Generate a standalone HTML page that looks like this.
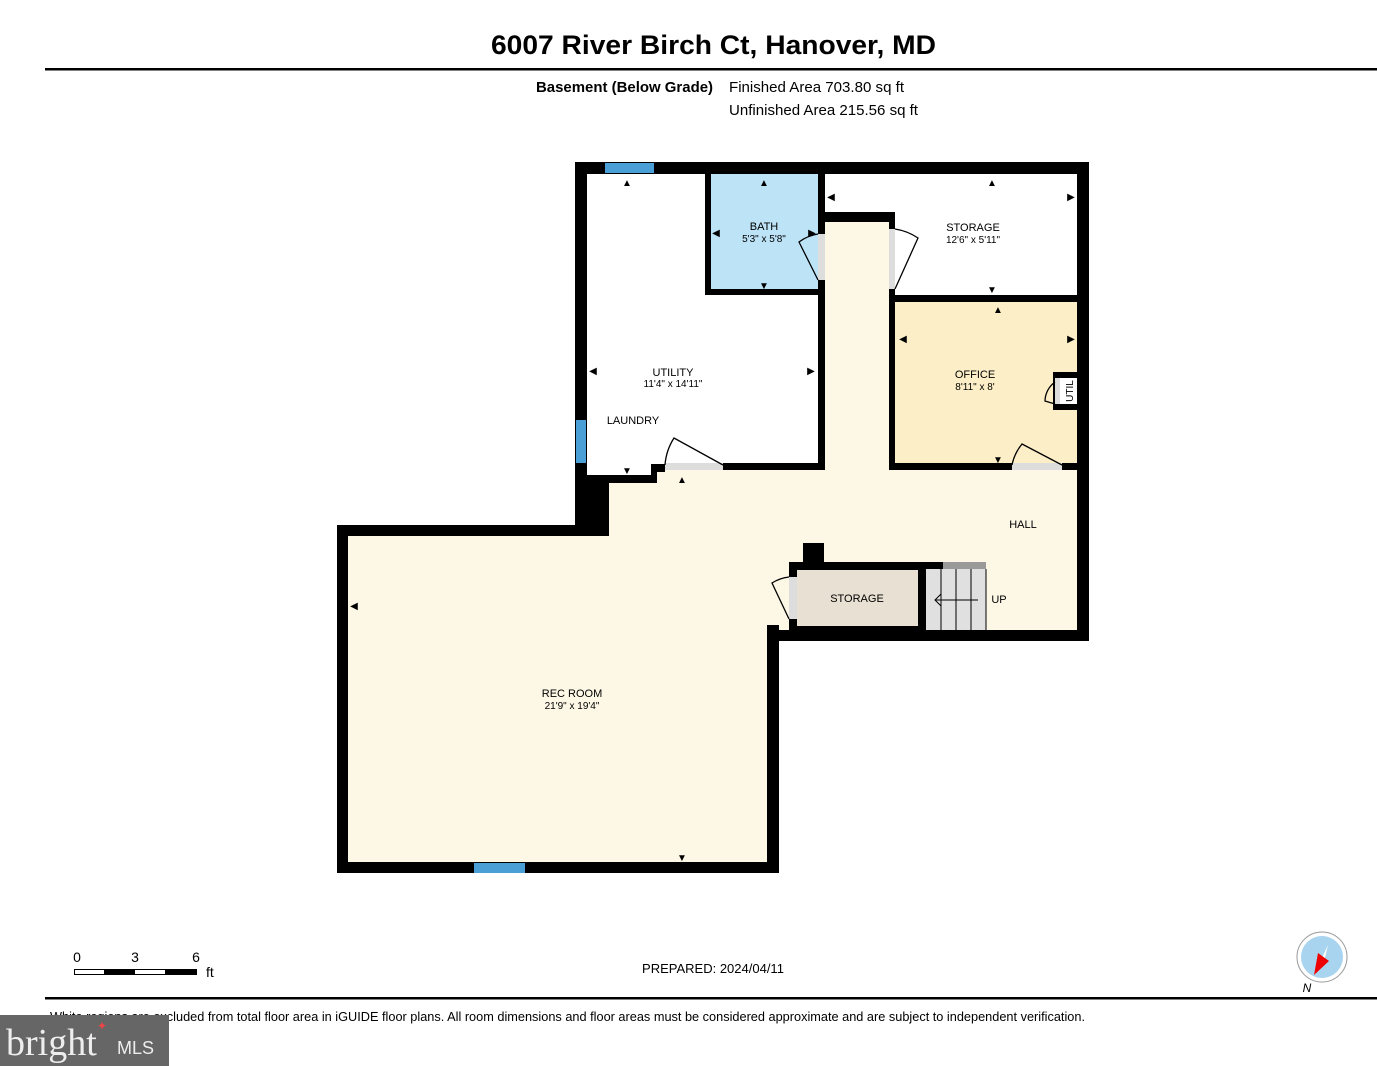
<!DOCTYPE html>
<html><head><meta charset="utf-8"><style>
html,body{margin:0;padding:0;background:#fff;}
svg{display:block;font-family:"Liberation Sans",Arial,sans-serif;}
</style></head><body>
<svg width="1377" height="1066" viewBox="0 0 1377 1066" xmlns="http://www.w3.org/2000/svg">
<rect width="1377" height="1066" fill="#fff"/>
<text x="491" y="54" font-size="27" font-weight="bold" textLength="445" lengthAdjust="spacingAndGlyphs">6007 River Birch Ct, Hanover, MD</text>
<rect x="45" y="68" width="1332" height="2.5" fill="#000"/>
<text x="536" y="92" font-size="15" font-weight="bold" textLength="177" lengthAdjust="spacingAndGlyphs">Basement (Below Grade)</text>
<text x="729" y="92" font-size="15" textLength="175" lengthAdjust="spacingAndGlyphs">Finished Area 703.80 sq ft</text>
<text x="729" y="115" font-size="15" textLength="189" lengthAdjust="spacingAndGlyphs">Unfinished Area 215.56 sq ft</text>

<polygon points="575,162 1089,162 1089,641 779,641 779,873 337,873 337,525 575,525" fill="#000"/>
<polygon points="587,174 705,174 705,295 818,295 818,463 723,463 723,464 651,464 651,475 587,475" fill="#fff"/>
<rect x="711" y="174" width="107" height="115" fill="#bde3f7"/>
<polygon points="825,174 1077,174 1077,295 895,295 895,212 825,212" fill="#fff"/>
<rect x="895" y="302" width="182" height="161" fill="#fcefc7"/>
<polygon points="825,222 889,222 889,470 1077,470 1077,630 779,630 779,625 767,625 767,862 348,862 348,536 609,536 609,483 657,483 657,472 665,472 665,470 825,470" fill="#fdf8e6"/>
<rect x="789" y="562" width="154" height="68" fill="#000"/>
<rect x="803" y="543" width="21" height="20" fill="#000"/>
<rect x="797" y="570" width="121" height="56" fill="#e8e0d2"/>
<rect x="926" y="569" width="60" height="61" fill="#e0e0e0"/>
<rect x="943" y="562" width="43" height="7" fill="#999"/>
<g stroke="#000" stroke-width="1"><line x1="941" y1="569" x2="941" y2="630"/><line x1="956" y1="569" x2="956" y2="630"/><line x1="971" y1="569" x2="971" y2="630"/><line x1="986" y1="569" x2="986" y2="630"/>
<line x1="935" y1="600" x2="978" y2="600"/><polyline points="941,594 935,600 941,606" fill="none"/></g>
<rect x="1053" y="372" width="24" height="38" fill="#000"/>
<rect x="1060" y="378" width="17" height="26" fill="#fff"/>
<rect x="1055" y="378" width="5" height="26" fill="#ddd"/>
<text x="1073" y="391" font-size="10" text-anchor="middle" transform="rotate(-90 1073 391)">UTIL</text>
<rect x="818" y="234" width="7" height="46" fill="#ddd"/>
<rect x="889" y="229" width="6" height="60" fill="#ddd"/>
<rect x="665" y="463" width="58" height="7" fill="#ddd"/>
<rect x="1012" y="463" width="50" height="7" fill="#ddd"/>
<rect x="789" y="577" width="8" height="42" fill="#ddd"/>
<g fill="none" stroke="#000" stroke-width="1.3">
<path d="M818,280 L799,242 A42,42 0 0 1 818,234"/>
<path d="M895,289 L918,238 A56,56 0 0 0 895,229"/>
<path d="M723,465 L674,438 A58,58 0 0 0 665,465"/>
<path d="M1062,465 L1022,444 A48,48 0 0 0 1012,465"/>
<path d="M789,619 L772,583 A40,40 0 0 1 789,577"/>
<path d="M1055,404 L1045,401 A24,24 0 0 1 1055,382"/>
</g>
<rect x="605" y="163" width="49" height="10" fill="#4a9fd6"/>
<rect x="576" y="420" width="10" height="43" fill="#4a9fd6"/>
<rect x="474" y="863" width="51" height="10" fill="#4a9fd6"/>
<g font-size="10" text-anchor="middle" fill="#000">
<text x="627" y="186">▲</text><text x="764" y="186">▲</text><text x="764" y="289">▼</text>
<text x="992" y="186">▲</text><text x="992" y="293">▼</text><text x="998" y="313">▲</text><text x="998" y="463">▼</text>
<text x="627" y="474">▼</text><text x="682" y="483">▲</text><text x="682" y="861">▼</text>
<text x="593" y="374">◀</text><text x="811" y="374">▶</text><text x="716" y="236">◀</text><text x="812" y="236">▶</text>
<text x="831" y="200">◀</text><text x="1071" y="200">▶</text><text x="903" y="342">◀</text><text x="1071" y="342">▶</text>
<text x="354" y="609">◀</text>
</g>
<g font-size="11" text-anchor="middle">
<text x="764" y="230">BATH</text><text x="764" y="242" font-size="10">5'3" x 5'8"</text>
<text x="973" y="231">STORAGE</text><text x="973" y="243" font-size="10">12'6" x 5'11"</text>
<text x="673" y="376">UTILITY</text><text x="673" y="387" font-size="10">11'4" x 14'11"</text>
<text x="633" y="424">LAUNDRY</text>
<text x="975" y="378">OFFICE</text><text x="975" y="390" font-size="10">8'11" x 8'</text>
<text x="1023" y="528">HALL</text>
<text x="857" y="602">STORAGE</text>
<text x="999" y="603">UP</text>
<text x="572" y="697">REC ROOM</text><text x="572" y="709" font-size="10">21'9" x 19'4"</text>
</g>
<text x="77" y="962" font-size="14" text-anchor="middle">0</text>
<text x="135" y="962" font-size="14" text-anchor="middle">3</text>
<text x="196" y="962" font-size="14" text-anchor="middle">6</text>
<rect x="74.5" y="969.5" width="122" height="5" fill="#fff" stroke="#000"/>
<rect x="104" y="969" width="31" height="6" fill="#000"/><rect x="165" y="969" width="31" height="6" fill="#000"/>
<text x="206" y="977" font-size="14">ft</text>
<text x="713" y="973" font-size="13" text-anchor="middle">PREPARED: 2024/04/11</text>
<circle cx="1322" cy="957" r="25" fill="#fff" stroke="#999" stroke-width="1"/>
<circle cx="1322" cy="957" r="21" fill="#a8d4f0"/>
<polygon points="1328,945 1314,975 1324,962" fill="#fff"/>
<polygon points="1314,975 1318,953 1329,961" fill="#e00"/>
<text x="1307" y="992" font-size="12" font-style="italic" text-anchor="middle">N</text>
<rect x="45" y="997" width="1332" height="2.5" fill="#000"/>
<text x="50" y="1021" font-size="13" textLength="1035" lengthAdjust="spacingAndGlyphs">White regions are excluded from total floor area in iGUIDE floor plans. All room dimensions and floor areas must be considered approximate and are subject to independent verification.</text>
<rect x="0" y="1015" width="169" height="51" fill="#666"/>
<text x="6" y="1055" font-size="38" font-family="Liberation Serif,serif" fill="#eee">bright</text>
<text x="117" y="1054" font-size="18" fill="#eee">MLS</text>
<text x="97" y="1030" font-size="12" fill="#e44">✦</text>
</svg>
</body></html>
